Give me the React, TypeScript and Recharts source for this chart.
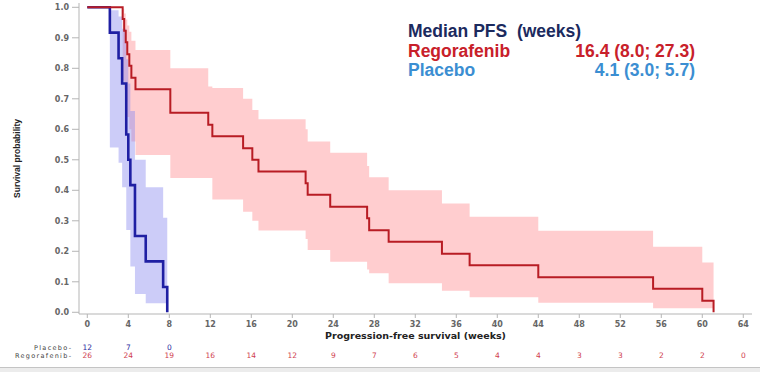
import React from 'react';
import { ComposedChart, Area, Line, XAxis, YAxis } from 'recharts';

const FONT = '"Liberation Sans", Arial, sans-serif';
const SMALL = '"DejaVu Sans", Verdana, sans-serif';

// Placebo KM curve (weeks, survival, CI)
const placeboTimes = [0, 2.2, 3.05, 3.4, 3.8, 4.0, 4.2, 4.65, 5.7, 7.4, 7.8];
const placeboSurv = [1, 0.917, 0.833, 0.75, 0.583, 0.5, 0.417, 0.25, 0.167, 0.083, 0];
const placeboLower = [1, 0.54, 0.49, 0.41, 0.27, 0.27, 0.15, 0.06, 0.03, 0.03, 0.03];
const placeboUpper = [1, 0.99, 0.97, 0.93, 0.83, 0.75, 0.66, 0.5, 0.41, 0.31, 0.31];

// Regorafenib KM curve
const regoTimes = [0, 3.45, 3.6, 3.75, 3.9, 4.1, 4.3, 4.7, 8.1, 11.8, 12.2, 15.2, 16.1, 16.7, 21.3, 21.5, 23.7, 27.3, 27.5, 29.4, 34.6, 37.3, 44.0, 55.2, 60.0, 61.1];
const regoSurv = [1, 0.962, 0.923, 0.885, 0.846, 0.808, 0.769, 0.731, 0.654, 0.615, 0.577, 0.538, 0.5, 0.462, 0.423, 0.385, 0.346, 0.308, 0.269, 0.231, 0.192, 0.154, 0.115, 0.077, 0.038, 0];
const regoLower = [1, 0.76, 0.73, 0.69, 0.64, 0.6, 0.56, 0.516, 0.44, 0.44, 0.37, 0.33, 0.3, 0.268, 0.24, 0.204, 0.166, 0.14, 0.128, 0.095, 0.071, 0.049, 0.031, 0.013, 0.013, 0.013];
const regoUpper = [1, 0.995, 0.98, 0.96, 0.94, 0.92, 0.89, 0.86, 0.8, 0.74, 0.735, 0.7, 0.663, 0.633, 0.6, 0.56, 0.523, 0.48, 0.443, 0.4, 0.357, 0.313, 0.267, 0.215, 0.163, 0.163];

// axes + number at risk
const weekTicks = [0, 4, 8, 12, 16, 20, 24, 28, 32, 36, 40, 44, 48, 52, 56, 60, 64];
const probTicks = [0, 0.1, 0.2, 0.3, 0.4, 0.5, 0.6, 0.7, 0.8, 0.9, 1.0];
const placeboAtRisk = [12, 7, 0];
const regoAtRisk = [26, 24, 19, 16, 14, 12, 9, 7, 6, 5, 4, 4, 3, 3, 2, 2, 0];

const build = (times: number[], s: number[], lo: number[], hi: number[]) =>
  times.map((t, i) => ({ t, s: s[i], band: [lo[i], hi[i]] }));

const placeboData = build(placeboTimes, placeboSurv, placeboLower, placeboUpper);
const regoData = build(regoTimes, regoSurv, regoLower, regoUpper);

const X_DOMAIN = [-0.81, 64.85];

function RiskTick(props: any) {
  const { x, y, payload, values, color, name } = props;
  const i = weekTicks.indexOf(payload.value);
  return (
    <g>
      {i === 0 && (
        <text x={x - 15} y={y + 6} textAnchor="end" fontSize={6.5} letterSpacing={1.3} fill="#444" fontFamily={SMALL}>{name}</text>
      )}
      <text x={x} y={y + 6} textAnchor="middle" fontSize={7.5} fill={color} fontFamily={SMALL}>{values[i]}</text>
    </g>
  );
}

export default function App() {
  return (
    <div style={{ position: 'absolute', left: 0, top: 0, width: 760, height: 372, background: '#fff', overflow: 'hidden' }}>
      <ComposedChart width={760} height={372} margin={{ top: 3, right: 8, left: 0, bottom: 12 }}>
        <XAxis
          xAxisId="main" type="number" dataKey="t" domain={X_DOMAIN} ticks={weekTicks} interval={0}
          allowDataOverflow height={30} tickSize={4} tickMargin={3}
          stroke="#b5b5b5"
          tick={{ fontSize: 8, fill: '#666', fontWeight: 'bold', fontFamily: SMALL }}
          label={{ value: 'Progression-free survival (weeks)', position: 'insideBottom', offset: 5, fontSize: 9.5, fontWeight: 'bold', fill: '#222', fontFamily: SMALL }}
        />
        <XAxis
          xAxisId="riskP" type="number" dataKey="t" domain={X_DOMAIN} ticks={weekTicks.slice(0, placeboAtRisk.length)} interval={0}
          allowDataOverflow height={8} tickSize={0} tickMargin={0} axisLine={false} tickLine={false}
          tick={(p: any) => <RiskTick {...p} values={placeboAtRisk} color="#2a2aa0" name="Placebo-" />}
        />
        <XAxis
          xAxisId="riskR" type="number" dataKey="t" domain={X_DOMAIN} ticks={weekTicks} interval={0}
          allowDataOverflow height={8} tickSize={0} tickMargin={0} axisLine={false} tickLine={false}
          tick={(p: any) => <RiskTick {...p} values={regoAtRisk} color="#d0404e" name="Regorafenib-" />}
        />
        <XAxis xAxisId="top" orientation="top" type="number" domain={X_DOMAIN} height={0} tick={false} tickLine={false} stroke="#d0d0d0" />
        <YAxis
          type="number" domain={[-0.0056, 1.0141]} ticks={probTicks} interval={0} allowDataOverflow
          width={79} tickSize={7} tickMargin={3} stroke="#b5b5b5"
          tickFormatter={(v: number) => v.toFixed(1)}
          tick={{ fontSize: 8, fill: '#666', fontWeight: 'bold', fontFamily: SMALL }}
          label={{ value: 'Survival probability', angle: -90, position: 'insideLeft', offset: 17, fontSize: 8.5, fontWeight: 'bold', fill: '#222', fontFamily: FONT, style: { textAnchor: 'middle' } }}
        />
        <YAxis yAxisId="right" orientation="right" width={0} domain={[0, 1]} tick={false} tickLine={false} stroke="#d0d0d0" />

        <Area xAxisId="main" data={regoData} dataKey="band" type="stepAfter" fill="#ffcdcf" fillOpacity={1} stroke="none" isAnimationActive={false} />
        <Area xAxisId="main" data={placeboData} dataKey="band" type="stepAfter" fill="#8f8ff0" fillOpacity={0.45} stroke="none" isAnimationActive={false} />
        <Line xAxisId="main" data={placeboData} dataKey="s" type="stepAfter" stroke="#1f1fa3" strokeWidth={2.6} dot={false} isAnimationActive={false} />
        <Line xAxisId="main" data={regoData} dataKey="s" type="stepAfter" stroke="#b81c24" strokeWidth={2} dot={false} isAnimationActive={false} />
      </ComposedChart>

      <div style={{ position: 'absolute', left: 408, top: 22, fontFamily: FONT, fontWeight: 'bold', fontSize: 17.5, lineHeight: '18px', color: '#1b2a5e', whiteSpace: 'pre' }}>Median PFS  (weeks)</div>
      <div style={{ position: 'absolute', left: 408, top: 42, fontFamily: FONT, fontWeight: 'bold', fontSize: 17.5, lineHeight: '18px', color: '#c8202a' }}>Regorafenib</div>
      <div style={{ position: 'absolute', right: 760 - 695, top: 42, fontFamily: FONT, fontWeight: 'bold', fontSize: 17.5, lineHeight: '18px', color: '#c8202a' }}>16.4 (8.0; 27.3)</div>
      <div style={{ position: 'absolute', left: 408, top: 61, fontFamily: FONT, fontWeight: 'bold', fontSize: 17.5, lineHeight: '18px', color: '#3b8ed2' }}>Placebo</div>
      <div style={{ position: 'absolute', right: 760 - 695, top: 61, fontFamily: FONT, fontWeight: 'bold', fontSize: 17.5, lineHeight: '18px', color: '#3b8ed2' }}>4.1 (3.0; 5.7)</div>
      <div style={{ position: 'absolute', left: 0, top: 367, width: 760, height: 5, background: '#ececec', borderTop: '1px solid #c4c4c4' }} />
    </div>
  );
}
